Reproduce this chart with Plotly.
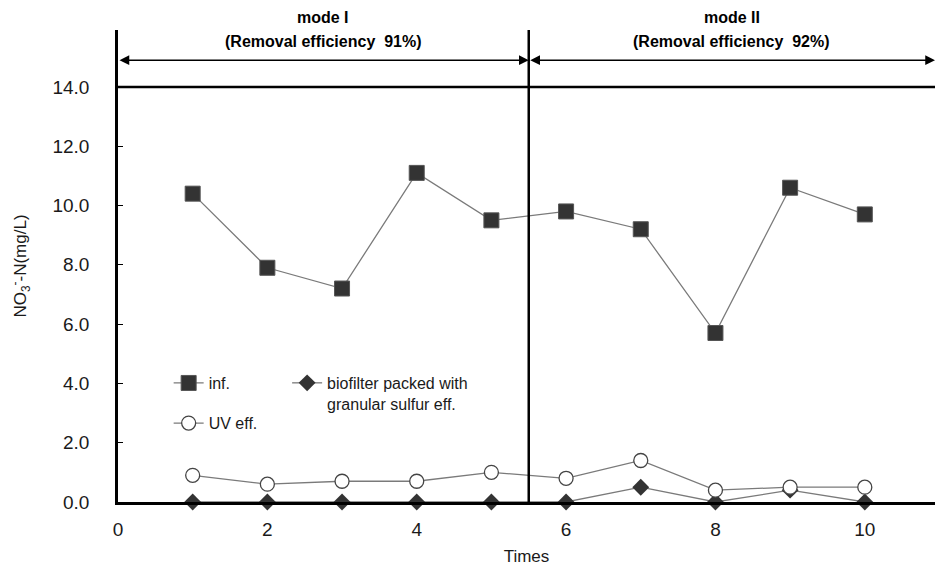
import plotly.graph_objects as go

# Sampling runs
times = [1, 2, 3, 4, 5, 6, 7, 8, 9, 10]

# NO3-N concentrations (mg/L)
influent = [10.4, 7.9, 7.2, 11.1, 9.5, 9.8, 9.2, 5.7, 10.6, 9.7]
biofilter_eff = [0.0, 0.0, 0.0, 0.0, 0.0, 0.0, 0.5, 0.0, 0.4, 0.0]
uv_eff = [0.9, 0.6, 0.7, 0.7, 1.0, 0.8, 1.4, 0.4, 0.5, 0.5]

# Axis ticks
x_ticks = [0, 2, 4, 6, 8, 10]
y_ticks = [0, 2, 4, 6, 8, 10, 12, 14]

# Operating modes: (label, efficiency text, start, end)
mode_split = 5.5
x_max = 10.94
y_top = 15.92
modes = [
    ("mode I", "(Removal efficiency  91%)", 0.0, mode_split),
    ("mode II", "(Removal efficiency  92%)", mode_split, x_max),
]

LINE = "#7a7a7a"
MARK = "#333333"
SANS = "Liberation Sans, Arial, sans-serif"
TICK_FONT = dict(family=SANS, size=19, color="#1a1a1a")
LEG_FONT = dict(family=SANS, size=16, color="#1a1a1a")

fig = go.Figure()

fig.add_trace(go.Scatter(
    x=times, y=influent, name="inf.", mode="lines+markers",
    line=dict(color=LINE, width=1.3), cliponaxis=False,
    marker=dict(symbol="square", size=15, color=MARK, line=dict(color="#555", width=1)),
    legend="legend",
))
fig.add_trace(go.Scatter(
    x=times, y=biofilter_eff, name="biofilter packed with<br>granular sulfur eff.",
    mode="lines+markers",
    line=dict(color=LINE, width=1.3), cliponaxis=False,
    marker=dict(symbol="diamond", size=13, color=MARK, line=dict(color=MARK, width=0)),
    legend="legend2",
))
fig.add_trace(go.Scatter(
    x=times, y=uv_eff, name="UV eff.", mode="lines+markers",
    line=dict(color=LINE, width=1.3), cliponaxis=False,
    marker=dict(symbol="circle", size=14, color="white", line=dict(color="#444", width=1.3)),
    legend="legend3",
))

shapes = [
    # upper bound line at 14.0
    dict(type="line", xref="paper", yref="y", x0=0, x1=1, y0=14, y1=14,
         line=dict(color="black", width=2.5)),
    # divider between operating modes
    dict(type="line", xref="x", yref="paper", x0=mode_split, x1=mode_split, y0=0, y1=1,
         line=dict(color="black", width=2.5)),
]

annotations = []
arrow_y = 14.9
for label, eff, x0, x1 in modes:
    mid = (x0 + x1) / 2
    annotations.append(dict(
        x=x1, y=arrow_y, ax=x0, ay=arrow_y, xref="x", yref="y", axref="x", ayref="y",
        text="", showarrow=True, arrowside="end+start", arrowhead=2,
        arrowsize=1.3, arrowwidth=1.5, arrowcolor="black", standoff=0, startstandoff=0,
    ))
    annotations.append(dict(
        x=mid, y=1.0275, xref="x", yref="paper", yanchor="middle",
        text="<b>" + label + "</b>",
        showarrow=False, font=dict(family=SANS, size=16, color="black"),
    ))
    annotations.append(dict(
        x=mid, y=0.975, xref="x", yref="paper", yanchor="middle",
        text="<b>" + eff + "</b>",
        showarrow=False, font=dict(family=SANS, size=16, color="black"),
    ))

legend_common = dict(orientation="h", xanchor="left", yanchor="middle", font=LEG_FONT,
                     valign="top", bgcolor="rgba(0,0,0,0)")

fig.update_layout(
    width=935, height=566,
    margin=dict(l=118, r=0, t=30, b=64),
    paper_bgcolor="white", plot_bgcolor="white",
    showlegend=True,
    shapes=shapes, annotations=annotations,
    legend=dict(x=0.062, y=0.252, **legend_common),
    legend2=dict(x=0.207, y=0.23, **legend_common),
    legend3=dict(x=0.062, y=0.167, **legend_common),
    xaxis=dict(
        range=[0, x_max], tickvals=x_ticks, ticktext=[str(v) for v in x_ticks],
        showgrid=False, zeroline=False, showline=True, linecolor="black", linewidth=2.5,
        ticks="", tickfont=TICK_FONT, ticklabelstandoff=8,
        title=dict(text="Times", font=dict(family=SANS, size=17, color="#1a1a1a"),
                   standoff=13),
    ),
    yaxis=dict(
        range=[0, y_top], tickvals=y_ticks, ticktext=[f"{v:.1f}" for v in y_ticks],
        showgrid=False, zeroline=False, showline=True, linecolor="black", linewidth=2.5,
        ticks="inside", ticklen=5, tickwidth=1, tickcolor="black",
        tickfont=TICK_FONT, ticklabelstandoff=22,
        title=dict(text="NO<sub>3</sub><sup>-</sup>-N(mg/L)",
                   font=dict(family=SANS, size=17, color="#1a1a1a"), standoff=22),
    ),
)

fig.write_html("out.html")
